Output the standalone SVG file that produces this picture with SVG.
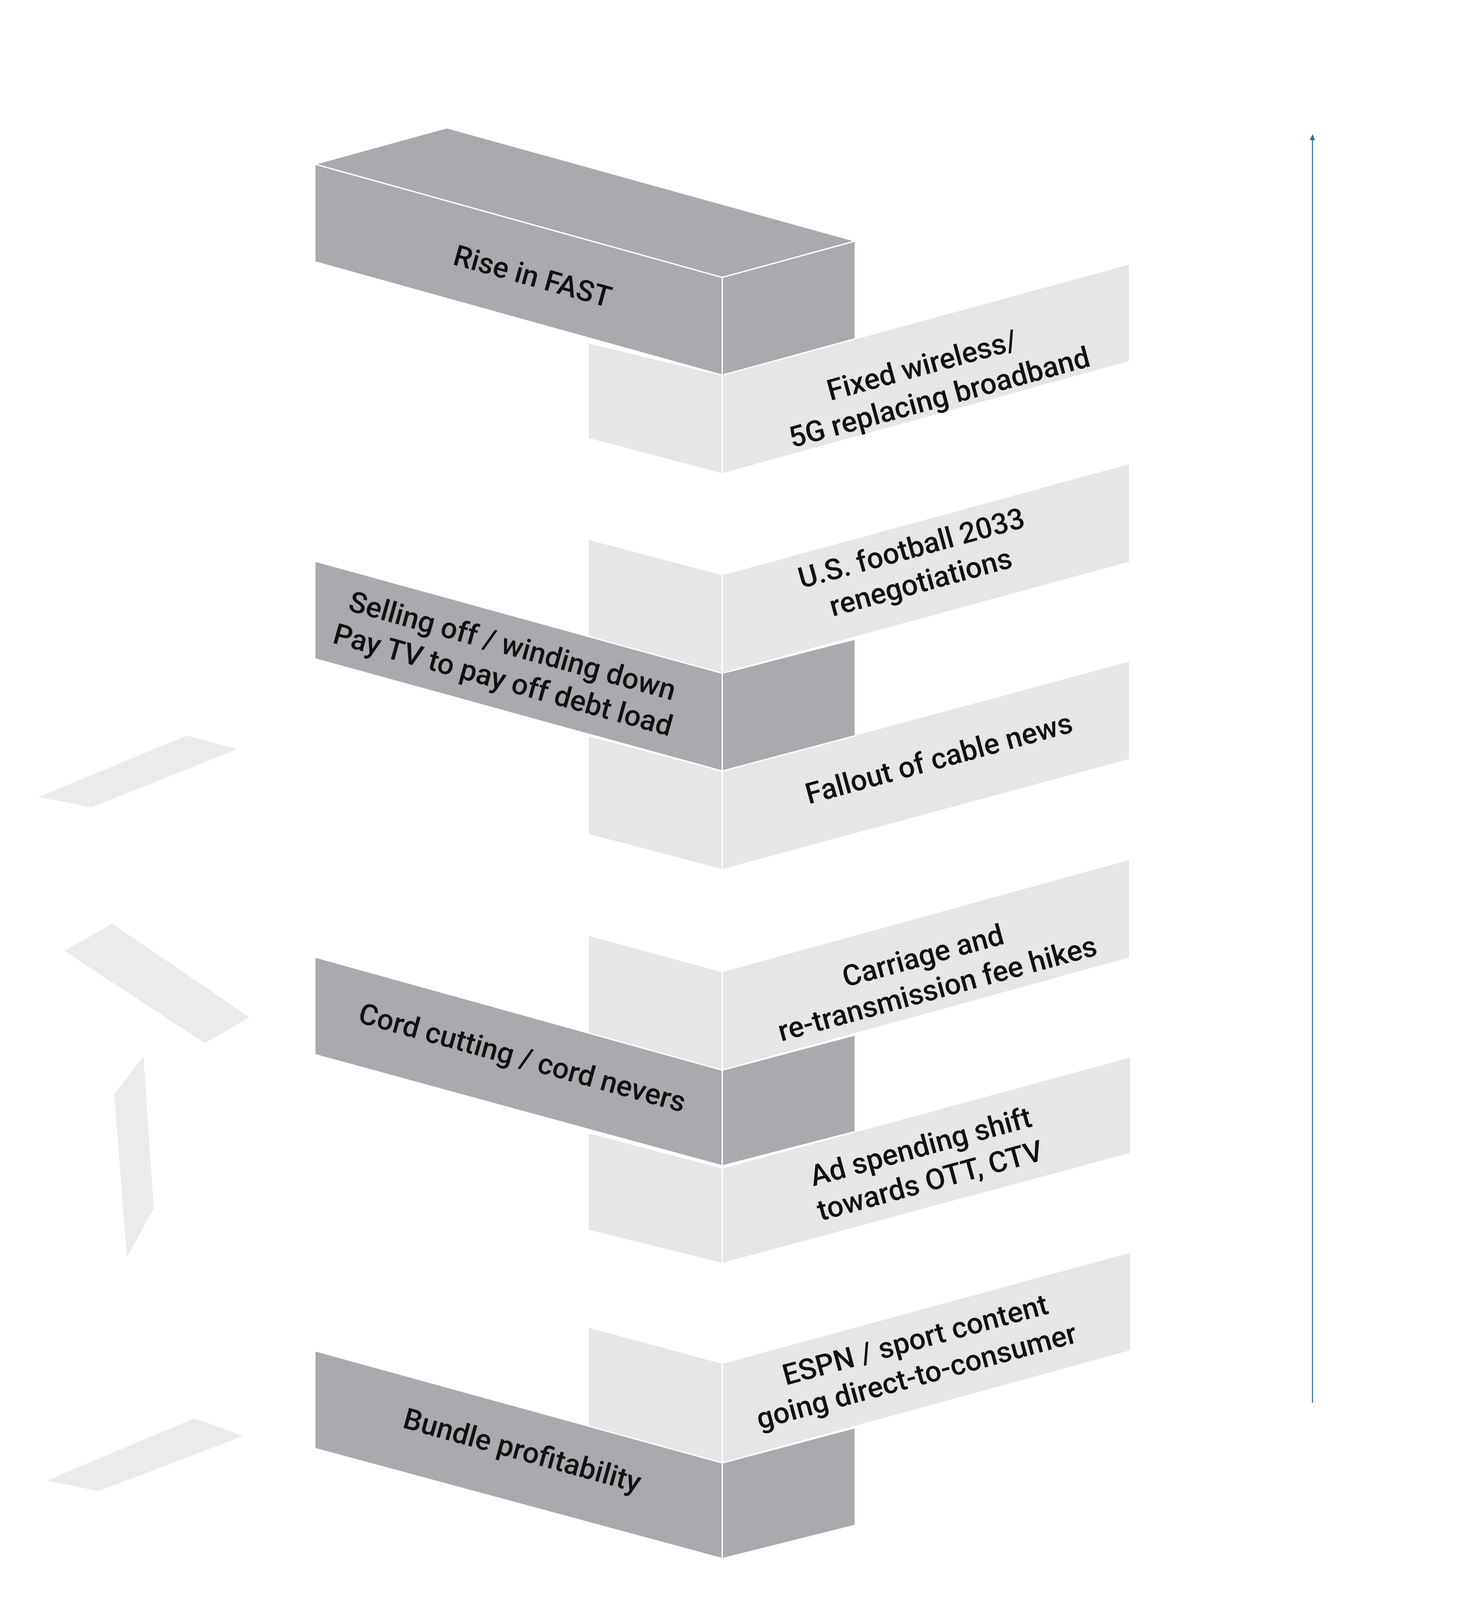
<svg xmlns="http://www.w3.org/2000/svg" width="3750" height="4192" viewBox="0 0 3750 4192">
<style>
.d{fill:#a9aaae;stroke:#fff;stroke-width:1.2;stroke-linejoin:round}
.l{fill:#e6e6e7;stroke:#fff;stroke-width:1.2;stroke-linejoin:round}
.s{fill:#ebebeb}
text{font-family:Roboto,"Liberation Sans",sans-serif;font-size:28px;font-weight:500;fill:#111;text-anchor:middle;dominant-baseline:middle}
</style>
<rect width="3750" height="4192" fill="#fff"/>
<g transform="scale(2.66)">
<g id="shapes">
<polygon class="s" points="37,767 180,708 228,721 88,777"/>
<polygon class="s" points="62,915 108,889 240,979 197,1004"/>
<polygon class="s" points="110,1053 138,1017 148,1163 122,1210"/>
<polygon class="s" points="45,1425 187,1365 234,1382 95,1435"/>
</g>
<g id="n1"><polygon class="l" points="566,330 695,361 695,456 566,422"/><polygon class="l" points="695,361 1087,254 1087,348 695,456"/>
<g transform="translate(900,368) rotate(-15.3)"><text x="-8" y="-17">Fixed wireless/</text><text x="0" y="17">5G replacing broadband</text></g></g>
<g id="n0"><polygon class="d" points="303,158 430,123 823,232 695,267"/><polygon class="d" points="303,158 695,267 695,361 303,252"/><polygon class="d" points="695,267 823,232 823,326 695,361"/>
<text transform="translate(512,268) rotate(15.5)">Rise in FAST</text></g>
<g id="n2"><polygon class="l" points="566,519 695,553 695,648 566,614"/><polygon class="l" points="695,553 1087,446 1087,541 695,648"/>
<g transform="translate(882,546) rotate(-15.3)"><text x="0" y="-17">U.S. football 2033</text><text x="0" y="17">renegotiations</text></g></g>
<g id="n3"><polygon class="l" points="566,708 695,742 695,837 566,803"/><polygon class="l" points="695,742 1087,636 1087,731 695,837"/>
<text transform="translate(904,732) rotate(-15.3)">Fallout of cable news</text></g>
<g id="n4"><polygon class="d" points="303,540 695,648 695,742 303,634"/><polygon class="d" points="695,648 823,615 823,708 695,742"/>
<g transform="translate(488,640) rotate(15.5)"><text x="0" y="-17">Selling off / winding down</text><text x="0" y="17">Pay TV to pay off debt load</text></g></g>
<g id="n5"><polygon class="l" points="566,900 695,935 695,1030 566,995"/><polygon class="l" points="695,935 1087,827 1087,922 695,1030"/>
<g transform="translate(898,937) rotate(-15.3)"><text x="-5" y="-17">Carriage and</text><text x="0" y="17">re-transmission fee hikes</text></g></g>
<g id="n6"><polygon class="l" points="566,1090 695,1124 695,1216 566,1184"/><polygon class="l" points="695,1124 1088,1017 1088,1110 695,1216"/>
<g transform="translate(891,1122) rotate(-15.3)"><text x="0" y="-17">Ad spending shift</text><text x="0" y="17">towards OTT, CTV</text></g></g>
<g id="n7"><polygon class="d" points="303,921 695,1030 695,1122 303,1015"/><polygon class="d" points="695,1030 823,996 823,1089 695,1122"/>
<text transform="translate(502,1020) rotate(15.5)">Cord cutting / cord nevers</text></g>
<g id="n8"><polygon class="l" points="566,1277 695,1312 695,1408 566,1373"/><polygon class="l" points="695,1312 1088,1205 1088,1300 695,1408"/>
<g transform="translate(878,1310) rotate(-15.3)"><text x="8" y="-17">ESPN / sport content</text><text x="0" y="17">going direct-to-consumer</text></g></g>
<g id="n9"><polygon class="d" points="303,1300 695,1408 695,1500 303,1394"/><polygon class="d" points="695,1408 823,1374 823,1468 695,1500"/>
<text transform="translate(502,1398) rotate(15.5)">Bundle profitability</text></g>
<g id="connectors"><line x1="1263" y1="1350" x2="1263" y2="132" stroke="#2e6da4" stroke-width="1"/><polygon points="1263,129 1260.5,135 1265.5,135" fill="#2e6da4"/></g>
</g>
</svg>
